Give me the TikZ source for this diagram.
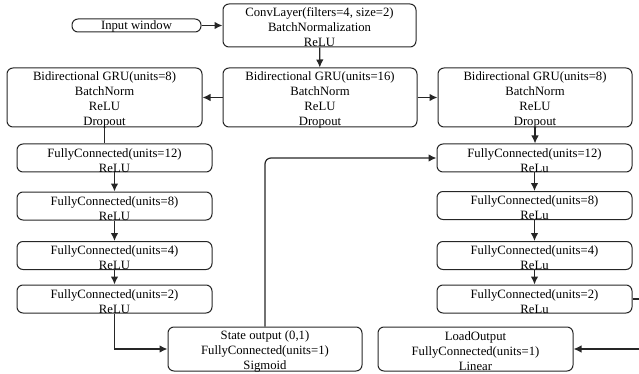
\documentclass[tikz,border=0pt]{standalone}
\usepackage{fontspec}
\setmainfont{Liberation Serif}
\usetikzlibrary{arrows.meta}
\begin{document}
\begin{tikzpicture}[x=1pt,y=-1pt,
  box/.style={draw=black!85, rounded corners=6pt, line width=1pt, inner sep=0pt},
  txt/.style={align=center, inner sep=0pt, font=\fontsize{12.7}{15}\selectfont},
  arr/.style={draw=black!85, line width=1.2pt, -{Latex[length=8pt,width=7.5pt]}},
  ln/.style={draw=black!85, line width=1.2pt}]
\useasboundingbox (0,0) rectangle (639,374);
\node[box, minimum width=129pt, minimum height=13pt] (inp) at (136.5,25.5) {};
\node[box, minimum width=193pt, minimum height=43pt] (conv) at (319.5,25.5) {};
\node[box, minimum width=194pt, minimum height=59pt] (gru16) at (320,97.5) {};
\node[box, minimum width=195pt, minimum height=59pt] (gruL) at (104.5,97.5) {};
\node[box, minimum width=194pt, minimum height=59pt] (gruR) at (535,97.5) {};
\node[box, minimum width=195pt, minimum height=28pt] (fcL1) at (114.5,158) {};
\node[box, minimum width=195pt, minimum height=28pt] (fcL2) at (114.5,206) {};
\node[box, minimum width=195pt, minimum height=28pt] (fcL3) at (114.5,255.5) {};
\node[box, minimum width=195pt, minimum height=28pt] (fcL4) at (114.5,299) {};
\node[box, minimum width=195pt, minimum height=28pt] (fcR1) at (534.5,158) {};
\node[box, minimum width=195pt, minimum height=28pt] (fcR2) at (534.5,205.5) {};
\node[box, minimum width=195pt, minimum height=28pt] (fcR3) at (534.5,255.5) {};
\node[box, minimum width=195pt, minimum height=28pt] (fcR4) at (534.5,299) {};
\node[box, minimum width=194pt, minimum height=44pt] (state) at (265,349) {};
\node[box, minimum width=195pt, minimum height=44pt] (load) at (475.5,349) {};
\node[txt] (inpT) at ([yshift=-1pt]inp.center) {Input window};
\node[txt] (convT) at ([yshift=-1.5pt]conv.center) {ConvLayer(filters=4, size=2)\\BatchNormalization\\ReLU};
\node[txt] (gru16T) at ([yshift=-2.5pt]gru16.center) {Bidirectional GRU(units=16)\\BatchNorm\\ReLU\\Dropout};
\node[txt] (gruLT) at ([yshift=-2.5pt]gruL.center) {Bidirectional GRU(units=8)\\BatchNorm\\ReLU\\Dropout};
\node[txt] (gruRT) at ([yshift=-2.5pt]gruR.center) {Bidirectional GRU(units=8)\\BatchNorm\\ReLU\\Dropout};
\node[txt] (fcL1T) at ([yshift=-2.5pt]fcL1.center) {FullyConnected(units=12)\\ReLU};
\node[txt] (fcL2T) at ([yshift=-2.5pt]fcL2.center) {FullyConnected(units=8)\\ReLU};
\node[txt] (fcL3T) at ([yshift=-2.5pt]fcL3.center) {FullyConnected(units=4)\\ReLU};
\node[txt] (fcL4T) at ([yshift=-2.5pt]fcL4.center) {FullyConnected(units=2)\\ReLU};
\node[txt] (fcR1T) at ([yshift=-2.5pt]fcR1.center) {FullyConnected(units=12)\\ReLu};
\node[txt] (fcR2T) at ([yshift=-2.5pt]fcR2.center) {FullyConnected(units=8)\\ReLu};
\node[txt] (fcR3T) at ([yshift=-2.5pt]fcR3.center) {FullyConnected(units=4)\\ReLu};
\node[txt] (fcR4T) at ([yshift=-2.5pt]fcR4.center) {FullyConnected(units=2)\\ReLu};
\node[txt] (stateT) at ([yshift=-2pt]state.center) {State output (0,1)\\FullyConnected(units=1)\\Sigmoid};
\node[txt] (loadT) at ([yshift=-2pt]load.center) {LoadOutput\\FullyConnected(units=1)\\Linear};
\coordinate (rc) at (646,0);
\draw[arr] (inp) -- (conv);
\draw[arr] (conv) -- (gru16);
\draw[arr] (gru16) -- (gruL);
\draw[arr] (gru16) -- (gruR);
\draw[ln] (gruL.south) -- (gruL.south |- fcL1.north);
\draw[arr] (gruR.south) -- (gruR.south |- fcR1.north);
\draw[arr] (fcL1) -- (fcL2);
\draw[arr] (fcL2) -- (fcL3);
\draw[arr] (fcL3) -- (fcL4);
\draw[arr] (fcR1) -- (fcR2);
\draw[arr] (fcR2) -- (fcR3);
\draw[arr] (fcR3) -- (fcR4);
\draw[arr] (fcL4.south) |- (state.west);
\draw[arr, rounded corners=6pt] (state.north) -- (state.north |- fcR1.west) -- (fcR1.west);
\draw[arr] (fcR4.east) -- (fcR4.east -| rc) -- (load.east -| rc) -- (load.east);
\end{tikzpicture}
\end{document}
